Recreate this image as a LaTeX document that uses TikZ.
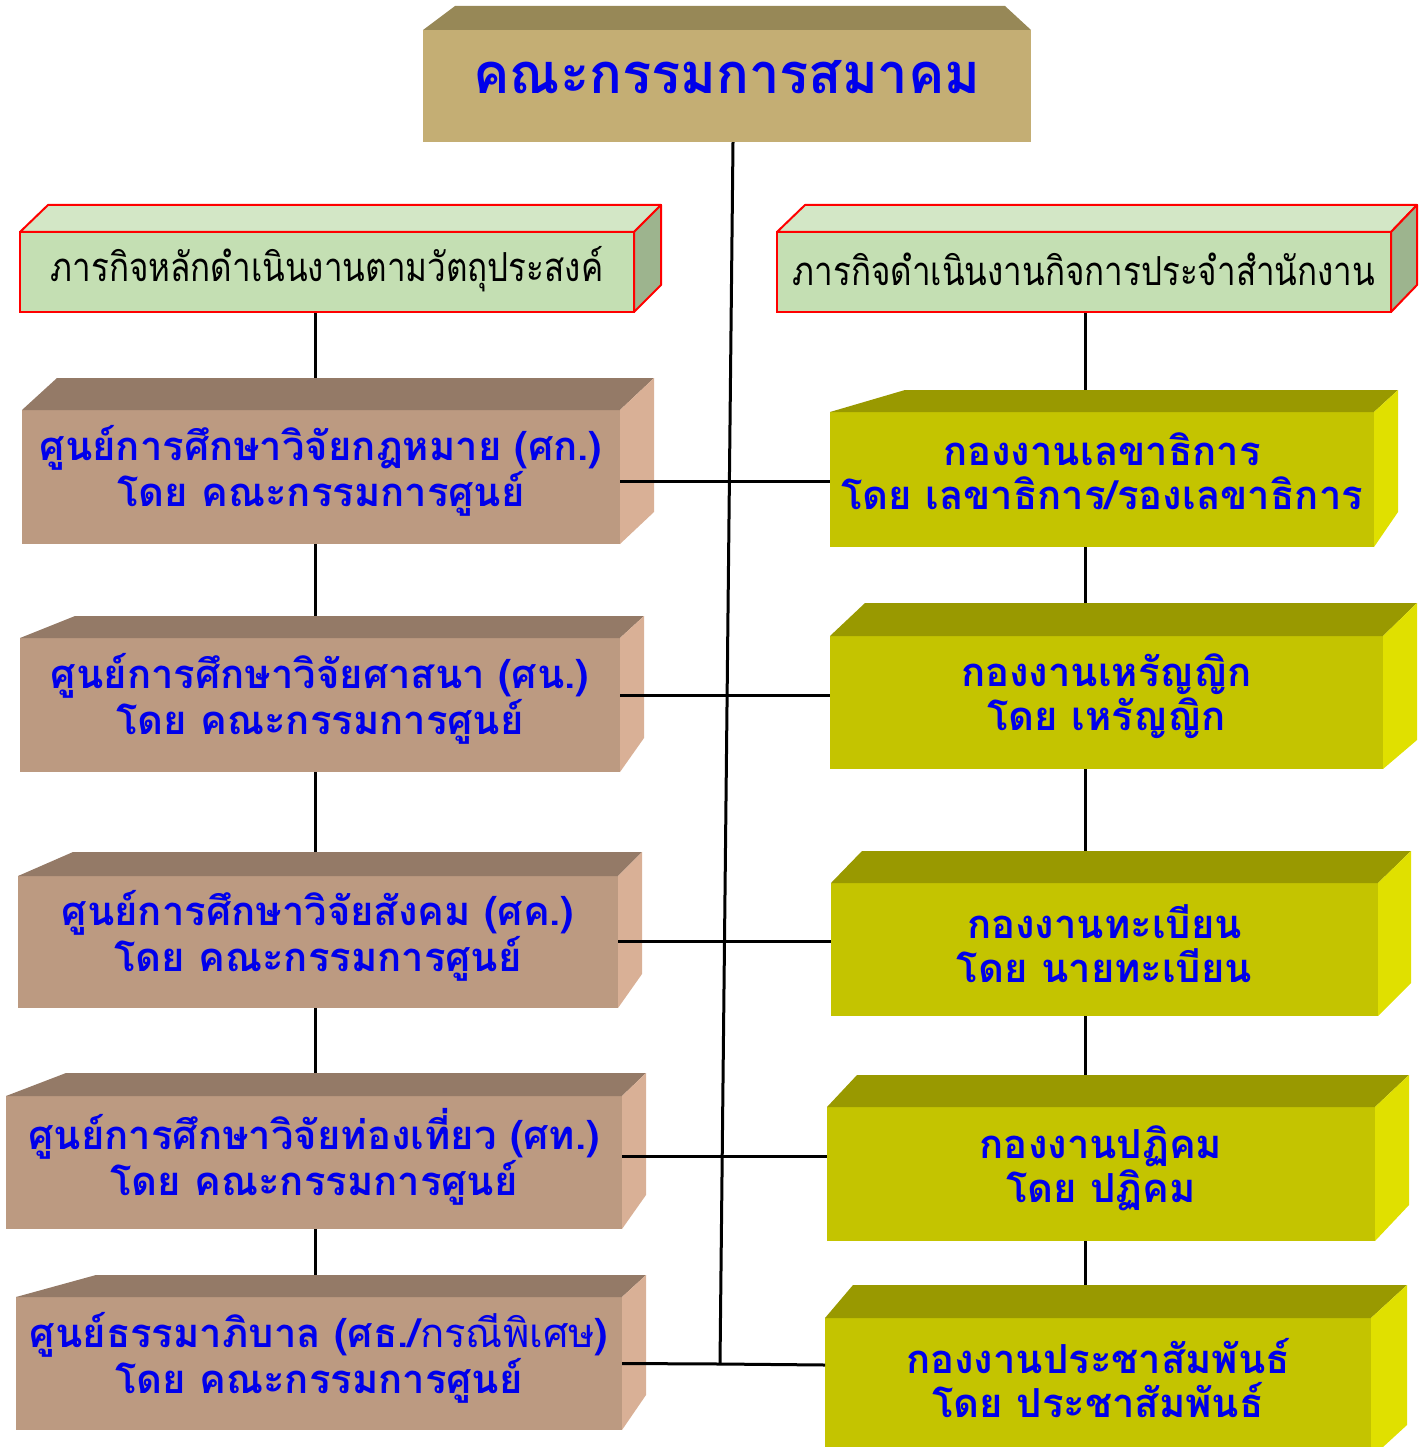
\documentclass[tikz,border=0pt]{standalone}
\usepackage{fontspec}
\newfontfamily\thaiA[Script=Thai]{Loma}
\newfontfamily\thaiT[Script=Thai,FakeStretch=0.97]{Loma}
\newfontfamily\thaiG[Script=Thai,FakeStretch=0.83]{Loma}
\usetikzlibrary{calc}
\definecolor{titlefront}{HTML}{C4AE74}
\definecolor{titletop}{HTML}{978857}
\definecolor{grfront}{HTML}{C4DFB3}
\definecolor{grtop}{HTML}{D3E7C6}
\definecolor{grside}{HTML}{9DB48E}
\definecolor{brfront}{HTML}{BC9A81}
\definecolor{brtop}{HTML}{947A67}
\definecolor{brside}{HTML}{D9B096}
\definecolor{yefront}{HTML}{C4C400}
\definecolor{yetop}{HTML}{999900}
\definecolor{yeside}{HTML}{E0E000}
\definecolor{txtblue}{RGB}{0,0,235}
\pgfdeclarelayer{bg}
\pgfsetlayers{bg,main}
% faces: #1 node, #2 dxL, #3 dxR, #4 dy top, #5 dy bottom of side, #6 top style, #7 side style
\newcommand\drawfaces[7]{%
  \path[#6] (#1.north west) -- ($(#1.north west)+(#2,-#4)$) -- ($(#1.north east)+(#3,-#4)$) -- (#1.north east) -- cycle;
  \path[#7] (#1.north east) -- ($(#1.north east)+(#3,-#4)$) -- ($(#1.south east)+(#3,-#5)$) -- (#1.south east) -- cycle;
}
\tikzset{
  box/.style={inner sep=0pt, outer sep=0pt},
  titlebox/.style={box, fill=titlefront},
  greenbox/.style={box, fill=grfront, draw=red, line width=2pt},
  brownbox/.style={box, fill=brfront},
  yellowbox/.style={box, fill=yefront},
  titletext/.style={inner sep=0pt, text=txtblue, font=\thaiT\bfseries\fontsize{56}{60}\selectfont},
  greentext/.style={inner sep=0pt, text=black, font=\thaiG\fontsize{40}{44}\selectfont},
  bluetext/.style={inner sep=0pt, align=center, text=txtblue, font=\thaiA\bfseries\fontsize{40}{44}\selectfont},
  link/.style={draw=black, line width=3pt},
}
\begin{document}
\begin{tikzpicture}[x=1pt,y=-1pt]
\useasboundingbox (0,0) rectangle (1426,1447);
% title
\node[titlebox, minimum width=608pt, minimum height=112pt] (T) at (727,86) {};
\drawfaces{T}{32}{-26}{24}{24}{fill=titletop}{draw=none}
\node[titletext] (Tt) at ([yshift=9pt]T.center) {คณะกรรมการสมาคม};
% green headers
\node[greenbox, minimum width=614pt, minimum height=80pt] (G1) at (327,272) {};
\drawfaces{G1}{28}{27}{27}{27}{fill=grtop,draw=red,line width=2pt,line join=round}{fill=grside,draw=red,line width=2pt,line join=round}
\node[greentext] (G1t) at ([yshift=3pt]G1.center) {ภารกิจหลักดำเนินงานตามวัตถุประสงค์};
\node[greenbox, minimum width=614pt, minimum height=80pt] (G2) at (1084,272) {};
\drawfaces{G2}{28}{26}{27}{27}{fill=grtop,draw=red,line width=2pt,line join=round}{fill=grside,draw=red,line width=2pt,line join=round}
\node[greentext] (G2t) at ([yshift=3pt]G2.center) {ภารกิจดำเนินงานกิจการประจำสำนักงาน};
% left column
\node[brownbox, minimum width=598pt, minimum height=134pt] (L1) at (321,477) {};
\drawfaces{L1}{35}{34}{32}{32}{fill=brtop}{fill=brside}
\node[bluetext] (L1t) at ([yshift=6pt]L1.center) {ศูนย์การศึกษาวิจัยกฎหมาย (ศก.)\\โดย คณะกรรมการศูนย์};
\node[brownbox, minimum width=600pt, minimum height=134pt] (L2) at (320,705) {};
\drawfaces{L2}{55}{24}{22}{34}{fill=brtop}{fill=brside}
\node[bluetext] (L2t) at ([yshift=6pt]L2.center) {ศูนย์การศึกษาวิจัยศาสนา (ศน.)\\โดย คณะกรรมการศูนย์};
\node[brownbox, minimum width=600pt, minimum height=132pt] (L3) at (318,942) {};
\drawfaces{L3}{55}{24}{24}{34}{fill=brtop}{fill=brside}
\node[bluetext] (L3t) at ([yshift=6pt]L3.center) {ศูนย์การศึกษาวิจัยสังคม (ศค.)\\โดย คณะกรรมการศูนย์};
\node[brownbox, minimum width=616pt, minimum height=133pt] (L4) at (314,1162.5) {};
\drawfaces{L4}{60}{24}{23}{34}{fill=brtop}{fill=brside}
\node[bluetext] (L4t) at ([yshift=6pt]L4.center) {ศูนย์การศึกษาวิจัยท่องเที่ยว (ศท.)\\โดย คณะกรรมการศูนย์};
\node[brownbox, minimum width=606pt, minimum height=133pt] (L5) at (319,1363.5) {};
\drawfaces{L5}{80}{24}{22}{35}{fill=brtop}{fill=brside}
\node[bluetext] (L5t) at ([yshift=6pt]L5.center) {ศูนย์ธรรมาภิบาล (ศธ./{\mdseries กรณีพิเศษ})\\โดย คณะกรรมการศูนย์};
% right column
\node[yellowbox, minimum width=544pt, minimum height=135pt] (R1) at (1102,479.5) {};
\drawfaces{R1}{75}{24}{22}{35}{fill=yetop}{fill=yeside}
\node[bluetext] (R1t) at ([yshift=8pt]R1.center) {กองงานเลขาธิการ\\โดย เลขาธิการ/รองเลขาธิการ};
\node[yellowbox, minimum width=553pt, minimum height=133pt] (R2) at (1106.5,702.5) {};
\drawfaces{R2}{35}{34}{33}{29}{fill=yetop}{fill=yeside}
\node[bluetext] (R2t) at ([yshift=6pt]R2.center) {กองงานเหรัญญิก\\โดย เหรัญญิก};
\node[yellowbox, minimum width=547pt, minimum height=133pt] (R3) at (1104.5,949.5) {};
\drawfaces{R3}{31}{33}{32}{33}{fill=yetop}{fill=yeside}
\node[bluetext] (R3t) at ([yshift=6pt]R3.center) {กองงานทะเบียน\\โดย นายทะเบียน};
\node[yellowbox, minimum width=548pt, minimum height=134pt] (R4) at (1101,1174) {};
\drawfaces{R4}{30}{34}{32}{36}{fill=yetop}{fill=yeside}
\node[bluetext] (R4t) at ([yshift=6pt]R4.center) {กองงานปฏิคม\\โดย ปฏิคม};
\node[yellowbox, minimum width=546pt, minimum height=140pt] (R5) at (1098,1388) {};
\drawfaces{R5}{28}{36}{33}{33}{fill=yetop}{fill=yeside}
\node[bluetext] (R5t) at ([yshift=10pt]R5.center) {กองงานประชาสัมพันธ์\\โดย ประชาสัมพันธ์};
% vertical connectors (behind boxes)
\coordinate (lc) at (315,0);
\coordinate (rc) at (1085,0);
\coordinate (J) at (720,1364);
\begin{pgfonlayer}{bg}
\draw[link] (lc |- G1.south) -- (lc |- L1.north);
\draw[link] (lc |- L1.south) -- (lc |- L2.north);
\draw[link] (lc |- L2.south) -- (lc |- L3.north);
\draw[link] (lc |- L3.south) -- (lc |- L4.north);
\draw[link] (lc |- L4.south) -- (lc |- L5.north);
\draw[link] (rc |- G2.south) -- (rc |- R1.north);
\draw[link] (rc |- R1.south) -- (rc |- R2.north);
\draw[link] (rc |- R2.south) -- (rc |- R3.north);
\draw[link] (rc |- R3.south) -- (rc |- R4.north);
\draw[link] (rc |- R4.south) -- (rc |- R5.north);
\draw[link] ([xshift=6pt]T.south) -- (J);
\end{pgfonlayer}
% horizontal connectors
\draw[link] ([yshift=-4pt]L1.east) -- ([yshift=-4pt]L1.east -| R1.west);
\draw[link] ([yshift=10pt]L2.east) -- ([yshift=10pt]L2.east -| R2.west);
\draw[link] ([yshift=1pt]L3.east) -- ([yshift=1pt]L3.east -| R3.west);
\draw[link] ([yshift=6pt]L4.east) -- ([yshift=6pt]L4.east -| R4.west);
\draw[link] (L5.east) -- (J) -- ([yshift=-1pt]J -| R5.west);
\end{tikzpicture}
\end{document}
